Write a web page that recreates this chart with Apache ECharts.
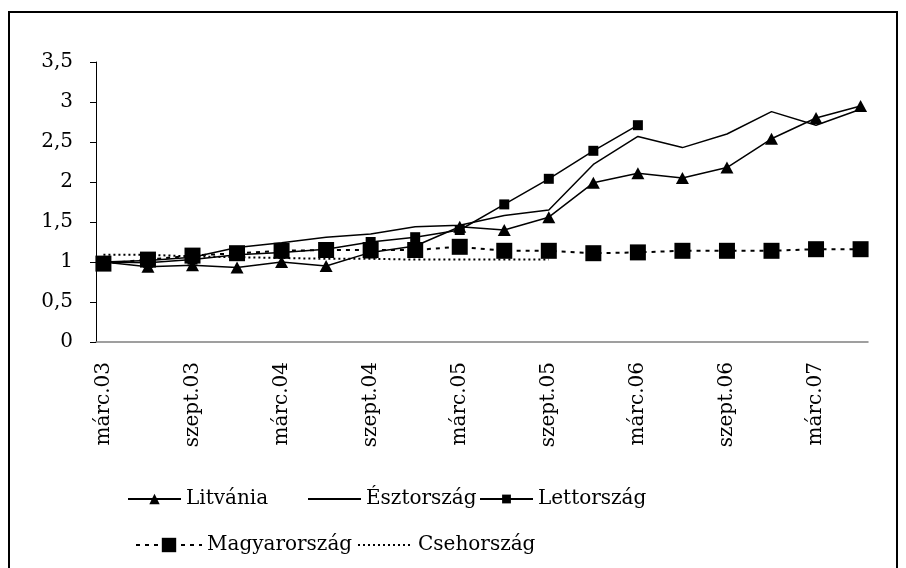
<!DOCTYPE html>
<html>
<head>
<meta charset="utf-8">
<script src="https://cdn.jsdelivr.net/npm/echarts@6/dist/echarts.min.js"></script>
<style>
    html, body { margin: 0; padding: 0; background: #fff; }
    #chart { width: 906px; height: 568px; }
</style>
</head>
<body>
<div id="chart"></div>
<script>
// havi tengely, negyedéves adatok (márc.03 - jún.07)
var monthNames = ['jan.', 'febr.', 'márc.', 'ápr.', 'máj.', 'jún.', 'júl.', 'aug.', 'szept.', 'okt.', 'nov.', 'dec.'];
var xMonths = [];
for (var m = 0; m < 52; m++) {
    var idx = 2 + m;
    xMonths.push(monthNames[idx % 12] + String(3 + Math.floor(idx / 12)).padStart(2, '0'));
}

var litvania = [1.0, 0.94, 0.96, 0.93, 1.0, 0.95, 1.12, 1.2, 1.44, 1.40, 1.56, 1.99, 2.11, 2.05, 2.18, 2.54, 2.80, 2.95];
var esztorszag = [1.0, 1.02, 1.06, 1.18, 1.24, 1.31, 1.35, 1.44, 1.46, 1.58, 1.65, 2.22, 2.57, 2.43, 2.60, 2.88, 2.71, 2.91];
var lettorszag = [1.0, 0.99, 1.03, 1.09, 1.12, 1.16, 1.25, 1.31, 1.40, 1.72, 2.04, 2.39, 2.71];
var magyarorszag = [0.98, 1.03, 1.08, 1.11, 1.14, 1.15, 1.15, 1.15, 1.19, 1.14, 1.14, 1.11, 1.12, 1.14, 1.14, 1.14, 1.16, 1.16];
var csehorszag = [1.09, 1.09, 1.07, 1.06, 1.05, 1.04, 1.04, 1.03, 1.03, 1.03, 1.03];

var font = "'DejaVu Serif', 'Liberation Serif', serif";
var fontSize = 20;

// negyedéves értékek elhelyezése a havi kategóriákon
var spread = function(q) {
    return xMonths.map(function(_, i) {
        var v = (i % 3 === 0) ? q[i / 3] : undefined;
        return v === undefined ? null : v;
    });
};

var mkSerie = function(name, data, symbol, size, lineType, width) {
    return {
        name: name,
        type: 'line',
        data: spread(data),
        connectNulls: true,
        symbol: symbol,
        symbolSize: size,
        showSymbol: symbol !== 'none',
        showAllSymbol: true,
        itemStyle: { color: '#000' },
        lineStyle: { color: '#000', width: width, type: lineType },
        emphasis: { disabled: true }
    };
};

// jelmagyarázat: egy elem = egy legend komponens, hogy a helye pontos legyen
var legendItem = function(name, left, top, itemWidth, itemHeight) {
    return {
        data: [name],
        left: left,
        top: top,
        itemWidth: itemWidth,
        itemHeight: itemHeight,
        selectedMode: false,
        textStyle: { fontFamily: font, fontSize: fontSize, color: '#000' }
    };
};
var noMarker = { opacity: 0 };

var chart = echarts.init(document.getElementById('chart'));
chart.setOption({
    animation: false,
    grid: { left: 96, right: 38, top: 62, bottom: 226 },
    xAxis: {
        type: 'category',
        boundaryGap: true,
        data: xMonths,
        axisLine: { lineStyle: { color: '#808080', width: 1.5 } },
        axisTick: { interval: 5, length: 7, lineStyle: { color: '#000' } },
        axisLabel: {
            interval: 5,
            rotate: 90,
            margin: 20,
            fontFamily: font,
            fontSize: fontSize,
            color: '#000'
        }
    },
    yAxis: {
        type: 'value',
        min: 0,
        max: 3.5,
        interval: 0.5,
        splitLine: { show: false },
        axisLine: { show: true, lineStyle: { color: '#000' } },
        axisTick: { show: true, length: 6, lineStyle: { color: '#000' } },
        axisLabel: {
            margin: 23,
            fontFamily: font,
            fontSize: fontSize,
            color: '#000',
            formatter: function(v) { return String(v).replace('.', ','); }
        }
    },
    legend: [
        legendItem('Litvánia', 122, 484, 53, 13),
        legendItem({ name: 'Észtország', itemStyle: noMarker }, 302, 484, 53, 13),
        legendItem('Lettország', 474, 484, 53, 11),
        legendItem('Magyarország', 130, 530, 66, 18),
        legendItem({ name: 'Csehország', itemStyle: noMarker }, 352, 530, 55, 18)
    ],
    graphic: [{
        type: 'rect',
        shape: { x: 9, y: 12, width: 888, height: 600 },
        style: { fill: 'none', stroke: '#000', lineWidth: 2 },
        silent: true
    }],
    series: [
        mkSerie('Litvánia', litvania, 'triangle', [13, 12], 'solid', 1.5),
        mkSerie('Észtország', esztorszag, 'none', 0, 'solid', 1.5),
        mkSerie('Lettország', lettorszag, 'rect', 10, 'solid', 1.5),
        mkSerie('Magyarország', magyarorszag, 'rect', 16, [4, 5], 2),
        mkSerie('Csehország', csehorszag, 'none', 0, [2, 3], 2)
    ]
});
</script>
</body>
</html>
